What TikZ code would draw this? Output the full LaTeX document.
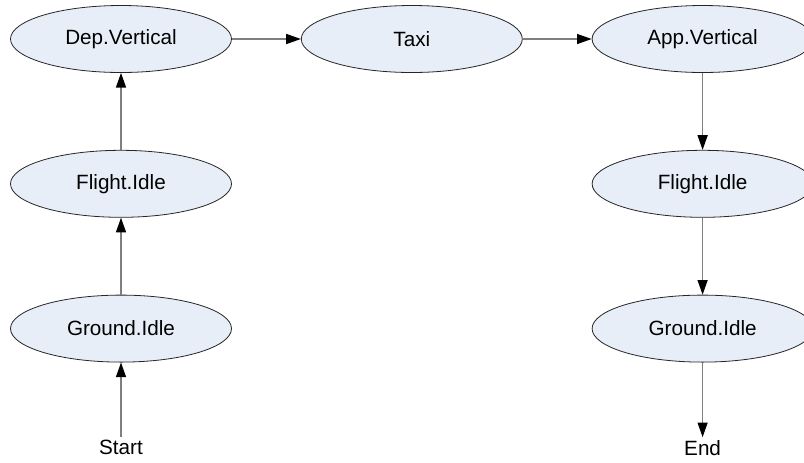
\documentclass[tikz,border=0pt]{standalone}
\usepackage{fontspec}
\setmainfont{Liberation Sans}
\usepackage{xcolor}
\usetikzlibrary{arrows.meta,positioning,shapes.geometric}

\definecolor{statefill}{HTML}{E8EEF8}
\definecolor{linegray}{HTML}{7F7F7F}

\begin{document}
\begin{tikzpicture}[
    x=0.75pt, y=-0.75pt,
    state/.style={draw=black!85, line width=0.6pt, ellipse, fill=statefill,
                  minimum width=165.75pt, minimum height=50.25pt, inner sep=0pt,
                  font=\fontsize{15.5}{18}\selectfont},
    label/.style={font=\fontsize{15.5}{18}\selectfont, inner sep=2pt},
    arr/.style={-{Triangle[length=11pt, width=7.5pt, color=black]},
                draw=linegray, line width=1pt},
]
\useasboundingbox (0,0) rectangle (804,462);

% --- Top row ---
\node[state] (depv) at (121,39) {Dep.Vertical};
\node[state, right=51.75pt of depv] (taxi) {Taxi};
\node[state, right=51.75pt of taxi] (appv) {App.Vertical};

% --- Left column (departure) ---
\node[state, below=57.75pt of depv] (fidleD) {Flight.Idle};
\node[state, below=57.75pt of fidleD] (gidleD) {Ground.Idle};
\node[label, below=56pt of gidleD] (start) {Start};

% --- Right column (approach) ---
\node[state, below=57.75pt of appv] (fidleA) {Flight.Idle};
\node[state, below=57.75pt of fidleA] (gidleA) {Ground.Idle};
\node[label, below=56pt of gidleA] (end) {End};

% --- Arrows ---
\draw[arr] (start) -- (gidleD);
\draw[arr] (gidleD) -- (fidleD);
\draw[arr] (fidleD) -- (depv);
\draw[arr] (depv) -- (taxi);
\draw[arr] (taxi) -- (appv);
\draw[arr] (appv) -- (fidleA);
\draw[arr] (fidleA) -- (gidleA);
\draw[arr] (gidleA) -- (end);

\end{tikzpicture}
\end{document}
